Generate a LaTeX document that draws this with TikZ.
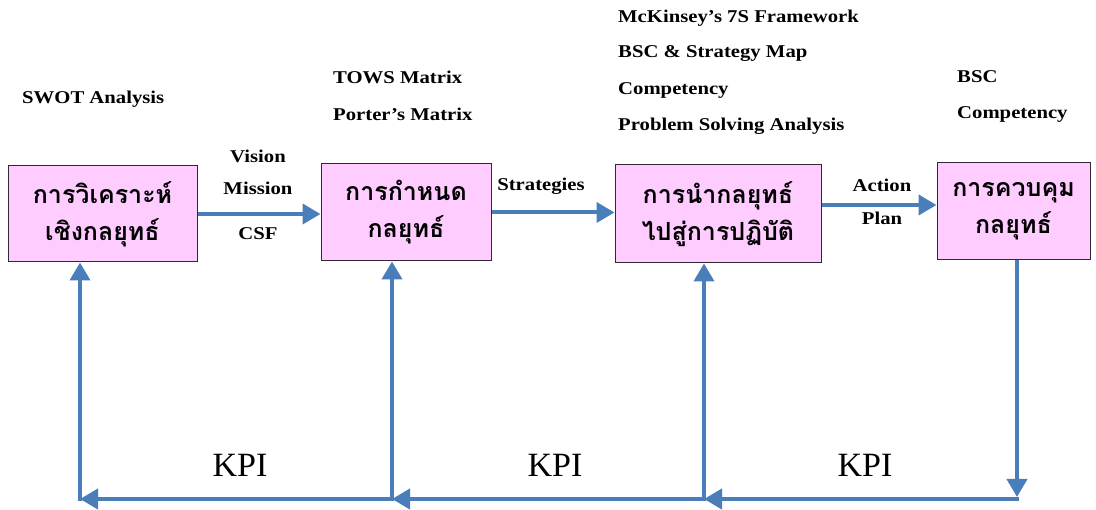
\documentclass[tikz,border=0pt]{standalone}
\usepackage{fontspec}
\setmainfont{Liberation Serif}
\newfontfamily\thaifont[Script=Thai]{Loma}
\newfontfamily\labfont[FakeStretch=1.15]{Liberation Serif}
\usetikzlibrary{arrows.meta}
\definecolor{arrblue}{RGB}{74,126,187}
\definecolor{boxpink}{RGB}{255,204,255}
\definecolor{boxline}{RGB}{50,40,50}
\begin{document}
\begin{tikzpicture}[x=1pt,y=-1pt,
  box/.style={draw=boxline, line width=1pt, fill=boxpink, inner sep=0pt, align=center,
    font=\thaifont\bfseries\fontsize{25}{37}\selectfont},
  conn/.style={draw=arrblue, line width=4pt},
  arr/.style={conn, -{Triangle[length=18pt,width=20pt]}},
  lab/.style={font=\labfont\bfseries\fontsize{18}{20}\selectfont, inner sep=0pt},
  kpi/.style={font=\fontsize{34}{36}\selectfont, inner sep=0pt}
]
\path[use as bounding box, fill=white] (0,0) rectangle (1096,510);

% boxes
\node[box, minimum width=189pt, minimum height=96pt] (b1) at (102.5,214) {การวิเคราะห์\\เชิงกลยุทธ์};
\node[box, minimum width=170pt, minimum height=97pt] (b2) at (406,212.5) {การกำหนด\\กลยุทธ์};
\node[box, minimum width=206pt, minimum height=98pt] (b3) at (718,214) {การนำกลยุทธ์\\ไปสู่การปฏิบัติ};
\node[box, minimum width=153pt, minimum height=97pt] (b4) at (1013.5,211.5) {การควบคุม\\กลยุทธ์};

% top labels
\node[lab, anchor=west] (swot) at (22,99) {SWOT Analysis};
\node[lab, anchor=west] (tows) at (333,77) {TOWS Matrix};
\node[lab, anchor=west] (porter) at (333,114) {Porter’s Matrix};
\node[lab, anchor=west] (mck) at (618,18) {McKinsey’s 7S Framework};
\node[lab, anchor=west] (bscmap) at (618,54) {BSC \& Strategy Map};
\node[lab, anchor=west] (comp1) at (618,90) {Competency};
\node[lab, anchor=west] (psa) at (618,126) {Problem Solving Analysis};
\node[lab, anchor=west] (bsc) at (957,77) {BSC};
\node[lab, anchor=west] (comp2) at (957,114) {Competency};

% arrow labels
\node[lab] (vision) at (258,156) {Vision};
\node[lab] (mission) at (258,188) {Mission};
\node[lab] (csf) at (258,234) {CSF};
\node[lab] (strat) at (541,186) {Strategies};
\node[lab] (action) at (882,185) {Action};
\node[lab] (plan) at (882,218) {Plan};

% forward arrows
\draw[arr] (b1.east) -- (b1.east -| b2.west);
\draw[arr] (b2.east) -- (b2.east -| b3.west);
\draw[arr] ([yshift=9pt]b3.east) -- ([yshift=9pt]b3.east -| b4.west);

% feedback loop
\coordinate (k1) at (80,499);
\coordinate (k2) at (392,499);
\coordinate (k3) at (704,499);
\coordinate (k4) at (1017,499);
\draw[arr] (b4.south -| k4) -- ([yshift=2pt]k4);
\draw[arr] ([xshift=2pt]k4) -- (k3);
\draw[arr] (k3) -- (k2);
\draw[arr] (k2) -- (k1);
\draw[arr] ([yshift=-2pt]k1) -- (k1 |- b1.south);
\draw[arr] ([yshift=-2pt]k2) -- (k2 |- b2.south);
\draw[arr] ([yshift=-2pt]k3) -- (k3 |- b3.south);

\node[kpi] (kpi1) at (240,465) {KPI};
\node[kpi] (kpi2) at (555,465) {KPI};
\node[kpi] (kpi3) at (865,465) {KPI};
\end{tikzpicture}
\end{document}
